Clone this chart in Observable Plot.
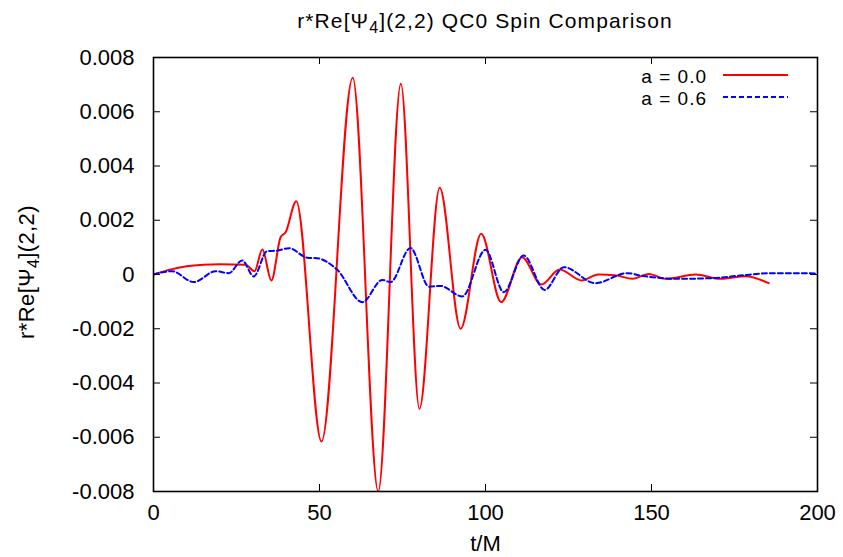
<!DOCTYPE html>
<html>
<head>
<meta charset="utf-8">
<script src="https://cdn.jsdelivr.net/npm/d3@7"></script>
<script src="https://cdn.jsdelivr.net/npm/@observablehq/plot@0.6"></script>
<style>
  html, body { margin: 0; padding: 0; background: #fff; }
  svg text { font-family: "Liberation Sans", Arial, sans-serif; }
</style>
</head>
<body>
<div id="chart"></div>
<script>
// ---- Data ----
const seriesNames = ["a = 0.0", "a = 0.6"];
const tA0 = [0, 5, 10, 15, 20, 27.7, 30.4, 32.8, 35.5, 38.3, 39.8, 43, 50.6, 60, 67.7, 74.5, 80.1, 86.2, 92.5, 98.7, 104.7, 111, 116.8, 122.3, 129, 134, 139.6, 144.2, 149.2, 154.2, 163.3, 170.8, 178.3, 185.3];
const vA0 = [0, 0.00018, 0.0003, 0.00036, 0.00038, 0.00036, 0.00012, 0.00092, -0.00022, 0.00138, 0.00156, 0.0027, -0.00616, 0.00725, -0.0080, 0.00703, -0.00495, 0.0032, -0.0020, 0.0015, -0.00102, 0.00064, -0.00037, 0.00018, -0.00022, 0.0, -0.00004, -0.00016, 0.00002, -0.00016, 0.0, -0.00016, -0.00006, -0.00032];
const tA6 = [0, 5.6, 12.1, 18.7, 22.7, 26.7, 30.2, 34.2, 37.2, 40.8, 46.3, 49.3, 55.3, 62.9, 68.9, 71.4, 77.4, 83, 86.4, 93, 100, 105.5, 111.5, 117.8, 123.6, 133.1, 142.7, 146.7, 158.7, 168.8, 176.8, 185.8, 195.9, 200];
const vA6 = [0, 0.00012, -0.00028, 0.00012, 0.00005, 0.00052, -0.00007, 0.00086, 0.00088, 0.00097, 0.00062, 0.0006, 0.00018, -0.00102, -0.0002, -0.00028, 0.00098, -0.00045, -0.00042, -0.00081, 0.00091, -0.00065, 0.0007, -0.00057, 0.00027, -0.00032, 0.00005, -0.00004, -0.00016, -0.00013, -0.00004, 0.00005, 0.00005, 0.00003];
const xTicks = [0, 50, 100, 150, 200];
const yTicks = [-0.008, -0.006, -0.004, -0.002, 0, 0.002, 0.004, 0.006, 0.008];

const rowsA0 = tA0.map((t, i) => ({t, v: vA0[i]}));
const rowsA6 = tA6.map((t, i) => ({t, v: vA6[i]}));

// ---- Layout ----
const W = 843, H = 557;
const mL = 153, mR = 26, mT = 57, mB = 66;
const pw = W - mL - mR, ph = H - mT - mB;
const tick = 7;
const FS = 22;
const LS = "0.4px";

const plot = Plot.plot({
  width: W, height: H,
  marginLeft: mL, marginRight: mR, marginTop: mT, marginBottom: mB,
  style: {fontFamily: "Liberation Sans, Arial, sans-serif", fontSize: FS + "px", background: "#fff", color: "#000", overflow: "visible"},
  x: {domain: [0, 200]},
  y: {domain: [-0.008, 0.008]},
  marks: [
    Plot.lineY(rowsA0, {x: "t", y: "v", stroke: "#ff0000", strokeWidth: 2, curve: "monotone-x", clip: true}),
    Plot.lineY(rowsA6, {x: "t", y: "v", stroke: "#0000ff", strokeWidth: 2, strokeDasharray: "5,3", curve: "monotone-x", clip: true}),
    // inward ticks on all four sides
    Plot.tickY(yTicks, {y: d => d, stroke: "#000", strokeWidth: 1, insetRight: pw - tick}),
    Plot.tickY(yTicks, {y: d => d, stroke: "#000", strokeWidth: 1, insetLeft: pw - tick}),
    Plot.tickX(xTicks, {x: d => d, stroke: "#000", strokeWidth: 1, insetBottom: ph - tick}),
    Plot.tickX(xTicks, {x: d => d, stroke: "#000", strokeWidth: 1, insetTop: ph - tick}),
    Plot.frame({stroke: "#000", strokeWidth: 1.6}),
    Plot.axisY({ticks: yTicks, tickSize: 0, tickPadding: 19, label: null,
      tickFormat: d => d === 0 ? "0" : d.toFixed(3), letterSpacing: LS}),
    Plot.axisX({ticks: xTicks, tickSize: 0, tickPadding: 13, label: null,
      tickFormat: d => String(d), letterSpacing: LS}),
    Plot.text(["t/M"], {text: d => d, frameAnchor: "bottom", dy: 52, lineAnchor: "middle", letterSpacing: LS})
  ]
});

const svg = d3.select(plot);

// Title with subscript
const title = svg.append("text")
  .attr("x", mL + pw / 2).attr("y", 28)
  .attr("text-anchor", "middle")
  .style("font-size", "21px").style("letter-spacing", "1.1px");
title.append("tspan").text("r*Re[Ψ");
title.append("tspan").attr("dy", 5).style("font-size", "16px").text("4");
title.append("tspan").attr("dy", -5).text("](2,2) QC0 Spin Comparison");

// Y axis label with subscript
const ylab = svg.append("text")
  .attr("transform", `translate(34,${mT + ph / 2 - 2}) rotate(-90)`)
  .attr("text-anchor", "middle")
  .style("font-size", "22px").style("letter-spacing", LS);
ylab.append("tspan").text("r*Re[Ψ");
ylab.append("tspan").attr("dy", 5).style("font-size", "16px").text("4");
ylab.append("tspan").attr("dy", -5).text("](2,2)");

// Legend (upper right, inside frame)
const legend = [
  {name: seriesNames[0], color: "#ff0000", dash: null, y: 76},
  {name: seriesNames[1], color: "#0000ff", dash: "5,3", y: 98}
];
legend.forEach(d => {
  svg.append("text").attr("x", 707).attr("y", d.y).attr("dy", "0.35em")
    .attr("text-anchor", "end").style("font-size", "19px").style("letter-spacing", "1px").text(d.name);
  svg.append("line").attr("x1", 723).attr("x2", 788).attr("y1", d.y - 1).attr("y2", d.y - 1)
    .attr("stroke", d.color).attr("stroke-width", 2).attr("stroke-dasharray", d.dash);
});

document.getElementById("chart").appendChild(plot);
</script>
</body>
</html>
